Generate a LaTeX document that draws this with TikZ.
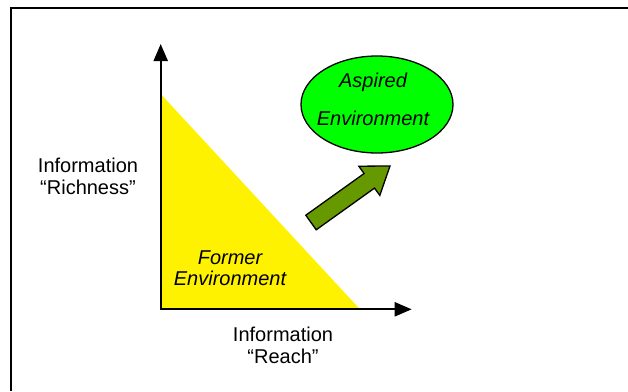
\documentclass[tikz,border=0pt]{standalone}
\usepackage{fontspec}
\setmainfont{Liberation Sans}
\usetikzlibrary{arrows.meta,shapes.geometric}
\definecolor{aspiredgreen}{RGB}{0,255,0}
\definecolor{movegreen}{RGB}{102,153,0}

\begin{document}
\begin{tikzpicture}[x=1pt,y=-1pt,
    axis/.style={line width=2.2pt,{Triangle[length=17pt,width=14pt]}-{Triangle[length=17pt,width=14pt]}},
    lbl/.style={align=center,inner sep=0pt,font=\fontsize{20}{22}\selectfont}]
  \useasboundingbox (0,0) rectangle (628,391);
  % frame
  \draw[line width=2pt] (10.5,391) -- (10.5,7.5) -- (628,7.5);
  % former environment
  \coordinate (origin) at (160.7,309.3);
  \coordinate (ytop) at (160.7,44);
  \coordinate (xend) at (411.7,309.3);
  \coordinate (ycut) at (160.7,94);
  \coordinate (xcut) at (360,309.3);
  \fill[yellow] (origin) -- (ycut) -- (xcut) -- cycle;
  \draw[axis] (ytop) |- (xend);
  \node[lbl,font=\fontsize{20}{21}\selectfont\itshape] (former) at (230,268) {Former\\Environment};
  % move
  \filldraw[fill=movegreen,line width=1.3pt,line join=miter]
    (316.2,229.8) -- (374.5,188.1) -- (379.8,195.4) -- (390,166)
    -- (358.8,166.2) -- (364.1,173.5) -- (305.8,215.2) -- cycle;
  % aspired environment
  \node[ellipse,draw,line width=1.3pt,fill=aspiredgreen,minimum width=152,minimum height=97] (aspired) at (377,104.5) {};
  \node[lbl,font=\fontsize{20}{38}\selectfont\itshape] (aspiredtxt) at (373,99) {Aspired\\Environment};
  % axis labels
  \node[lbl] (richness) at (88,176) {Information\\“Richness”};
  \node[lbl] (reach) at (283,345) {Information\\“Reach”};
\end{tikzpicture}
\end{document}
